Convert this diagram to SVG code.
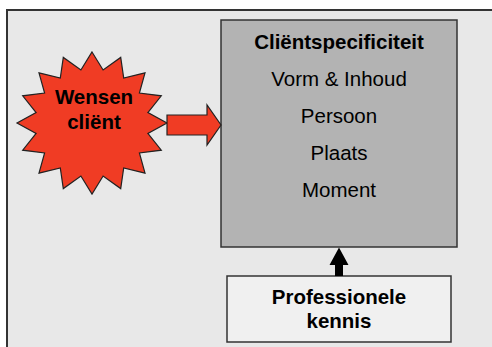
<svg xmlns="http://www.w3.org/2000/svg" width="492" height="347" viewBox="0 0 492 347">
<style>
text{font-family:"Liberation Sans",Arial,sans-serif;fill:#000;text-anchor:middle}
.b{font-weight:bold}
.t{font-size:20.5px}
.edge{stroke:#222;stroke-width:1.2}
</style>
<rect width="492" height="347" fill="#fff"/>
<rect id="frame" x="7" y="10" width="492" height="345" fill="#e8e8e8" stroke="#333" stroke-width="2"/>
<g id="wensen">
<polygon fill="#f03c24" stroke="#222" stroke-width="1.2" points="92,52 103.1,70 120.7,57.4 123.7,78.1 145,72.8 139.4,93 161.3,95.8 147.9,112.5 167,123 147.9,133.5 161.3,150.2 139.4,153 145,173.2 123.7,167.9 120.7,188.6 103.1,176 92,194 80.9,176 63.3,188.6 60.3,167.9 39,173.2 44.6,153 22.7,150.2 36.1,133.5 17,123 36.1,112.5 22.7,95.8 44.6,93 39,72.8 60.3,78.1 63.3,57.4 80.9,70"/>
<text class="b t" x="94" y="104">Wensen</text>
<text class="b t" x="94" y="129">cliënt</text>
</g>
<g id="specificiteit">
<rect x="221" y="20" width="236" height="227" fill="#b3b3b3" stroke="#333" stroke-width="1.5"/>
<text class="b t" x="339" y="49">Cliëntspecificiteit</text>
<text class="t" x="339" y="86">Vorm &amp; Inhoud</text>
<text class="t" x="339" y="123">Persoon</text>
<text class="t" x="339" y="160">Plaats</text>
<text class="t" x="339" y="197">Moment</text>
</g>
<g id="kennis">
<rect x="227" y="276" width="224" height="66" fill="#f0f0f0" stroke="#333" stroke-width="1.5"/>
<text class="b t" x="339" y="304">Professionele</text>
<text class="b t" x="339" y="328">kennis</text>
</g>
<g id="connectors">
<polygon fill="#f03c24" class="edge" points="167,115 207,115 207,105 221,125 207,145 207,135 167,135"/>
<polygon fill="#000" points="335,276 335,265 329.5,265 339,247.5 348.5,265 343,265 343,276"/>
</g>
</svg>
